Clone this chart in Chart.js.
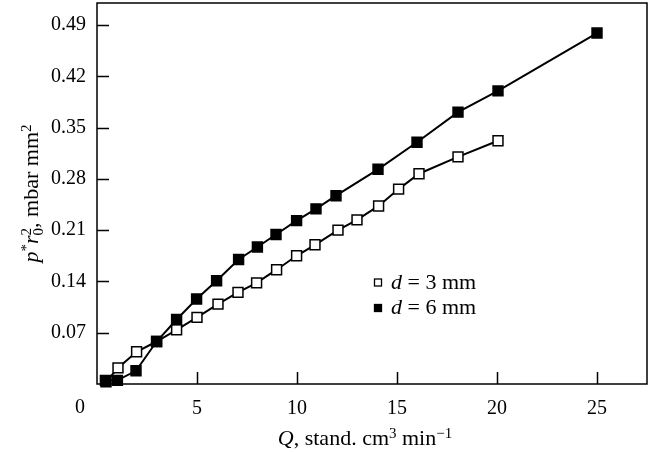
<!DOCTYPE html>
<html lang="en">
<head>
<meta charset="UTF-8" />
<title>p*r0^2 vs Q</title>
<script src="https://cdn.jsdelivr.net/npm/chart.js"></script>
<style>
  html, body { margin: 0; padding: 0; background: #fff; }
  #wrap { width: 651px; height: 452px; }
</style>
</head>
<body>
<div id="wrap"><canvas id="grafica" width="651" height="452"></canvas></div>
<script>
  // d = 3 mm, open squares
  const q3 = [0.45, 1.05, 1.98, 2.98, 3.98, 5.0, 6.05, 7.05, 7.98, 8.98, 9.98, 10.9, 12.05, 13.0, 14.08, 15.08, 16.1, 18.05, 20.05];
  const p3 = [0.003, 0.022, 0.044, 0.058, 0.074, 0.091, 0.109, 0.125, 0.138, 0.156, 0.175, 0.190, 0.210, 0.224, 0.243, 0.266, 0.287, 0.310, 0.332];
  // d = 6 mm, filled squares
  const q6 = [0.42, 1.02, 1.95, 2.98, 3.98, 4.98, 5.98, 7.08, 8.02, 8.95, 9.98, 10.95, 11.95, 14.05, 16.0, 18.05, 20.05, 25.0];
  const p6 = [0.005, 0.005, 0.018, 0.058, 0.088, 0.116, 0.141, 0.170, 0.187, 0.204, 0.223, 0.239, 0.257, 0.293, 0.330, 0.371, 0.400, 0.479];

  const xTicks = [5, 10, 15, 20, 25];
  const yTicks = [0.07, 0.14, 0.21, 0.28, 0.35, 0.42, 0.49];

  const FONT = '"Liberation Serif", "DejaVu Serif", serif';
  const TICK_FS = 20;
  const TITLE_FS = 22;
  const LEG_FS = 22;

  function font(p, size) {
    const s = (p.sup || p.sub) ? Math.round(size * 0.68) : size;
    return (p.i ? 'italic ' : '') + s + 'px ' + FONT;
  }
  // width of a run of text pieces (italic / superscript / subscript)
  function richWidth(ctx, parts, size) {
    let w = 0;
    for (const p of parts) {
      ctx.font = font(p, size);
      if (!p.stay) w += ctx.measureText(p.t).width;
    }
    return w;
  }
  // draws the pieces starting at x on baseline y
  function drawRich(ctx, parts, x, y, size) {
    ctx.textAlign = 'left';
    ctx.textBaseline = 'alphabetic';
    for (const p of parts) {
      ctx.font = font(p, size);
      let dy = 0;
      if (p.sup) dy = -size * 0.33;
      if (p.sub) dy = size * 0.22;
      ctx.fillText(p.t, x, y + dy);
      if (!p.stay) x += ctx.measureText(p.t).width;
    }
  }

  const yTitle = [
    { t: 'p', i: 1 }, { t: '*', sup: 1 }, { t: 'r', i: 1 },
    { t: '0', sub: 1, stay: 1 }, { t: '2', sup: 1 },
    { t: ', mbar mm' }, { t: '2', sup: 1 }
  ];
  const xTitle = [
    { t: 'Q', i: 1 }, { t: ', stand. cm' }, { t: '3', sup: 1 },
    { t: ' min' }, { t: '\u22121', sup: 1 }
  ];
  const legendRows = [
    { fill: '#fff', parts: [{ t: 'd', i: 1 }, { t: ' = 3 mm' }] },
    { fill: '#000', parts: [{ t: 'd', i: 1 }, { t: ' = 6 mm' }] }
  ];

  const decor = {
    id: 'decor',
    afterDraw(chart) {
      const ctx = chart.ctx;
      const a = chart.chartArea;
      const xs = chart.scales.x, ys = chart.scales.y;
      ctx.save();
      ctx.strokeStyle = '#000';
      ctx.fillStyle = '#000';
      ctx.lineWidth = 1.5;
      ctx.strokeRect(a.left, a.top, a.right - a.left, a.bottom - a.top);

      // inward tick marks
      ctx.beginPath();
      xs.ticks.forEach(t => {
        const px = Math.round(xs.getPixelForValue(t.value)) + 0.5;
        ctx.moveTo(px, a.bottom);
        ctx.lineTo(px, a.bottom - 12);
      });
      ys.ticks.forEach(t => {
        const py = Math.round(ys.getPixelForValue(t.value)) + 0.5;
        ctx.moveTo(a.left, py);
        ctx.lineTo(a.left + 12, py);
      });
      ctx.stroke();

      // shared origin label
      ctx.font = TICK_FS + 'px ' + FONT;
      ctx.textAlign = 'center';
      ctx.textBaseline = 'middle';
      ctx.fillText('0', xs.getPixelForValue(0) - 17, a.bottom + 24);

      // axis titles
      const wx = richWidth(ctx, xTitle, TITLE_FS);
      drawRich(ctx, xTitle, (a.left + a.right) / 2 - 7 - wx / 2, 445, TITLE_FS);

      ctx.save();
      ctx.translate(38, (a.top + a.bottom) / 2);
      ctx.rotate(-Math.PI / 2);
      const wy = richWidth(ctx, yTitle, TITLE_FS);
      drawRich(ctx, yTitle, -wy / 2, 0, TITLE_FS);
      ctx.restore();

      // legend
      legendRows.forEach((r, i) => {
        const cx = a.left + 281, cy = a.top + 279.5 + i * 25.5;
        ctx.fillStyle = r.fill;
        ctx.fillRect(cx - 3.5, cy - 3.5, 7, 7);
        ctx.lineWidth = 1.3;
        ctx.strokeRect(cx - 3.5, cy - 3.5, 7, 7);
        ctx.fillStyle = '#000';
        drawRich(ctx, r.parts, cx + 13, cy + 6, LEG_FS);
      });
      ctx.restore();
    }
  };

  function serie(label, xs, ys, fill) {
    return {
      label: label,
      data: xs.map((x, i) => ({ x: x, y: ys[i] })),
      borderColor: '#000',
      borderWidth: 2,
      pointStyle: 'rect',
      pointRadius: 7,
      pointHoverRadius: 7,
      pointBorderWidth: 1.5,
      pointBorderColor: '#000',
      pointBackgroundColor: fill,
      tension: 0,
      clip: false
    };
  }

  const tickFont = { family: FONT, size: TICK_FS };

  new Chart(document.getElementById('grafica'), {
    type: 'line',
    data: {
      datasets: [
        serie('d = 6 mm', q6, p6, '#000'),
        serie('d = 3 mm', q3, p3, '#fff')
      ]
    },
    options: {
      responsive: false,
      animation: false,
      devicePixelRatio: 1,
      layout: { autoPadding: false, padding: { top: 3, right: 4, left: 0, bottom: 0 } },
      plugins: { legend: { display: false }, tooltip: { enabled: false } },
      scales: {
        x: {
          type: 'linear',
          min: 0,
          max: 27.5,
          afterBuildTicks: s => { s.ticks = xTicks.map(v => ({ value: v })); },
          afterFit: s => { s.height = 68; s.paddingLeft = 0; s.paddingRight = 0; },
          grid: { display: false, drawTicks: false },
          border: { display: false },
          ticks: { font: tickFont, color: '#000', padding: 13, maxRotation: 0 }
        },
        y: {
          min: 0,
          max: 0.52,
          afterBuildTicks: s => { s.ticks = yTicks.map(v => ({ value: v })); },
          afterFit: s => { s.width = 97; s.paddingTop = 0; s.paddingBottom = 0; },
          grid: { display: false, drawTicks: false },
          border: { display: false },
          ticks: { font: tickFont, color: '#000', padding: 11, callback: v => v.toFixed(2) }
        }
      }
    },
    plugins: [decor]
  });
</script>
</body>
</html>
